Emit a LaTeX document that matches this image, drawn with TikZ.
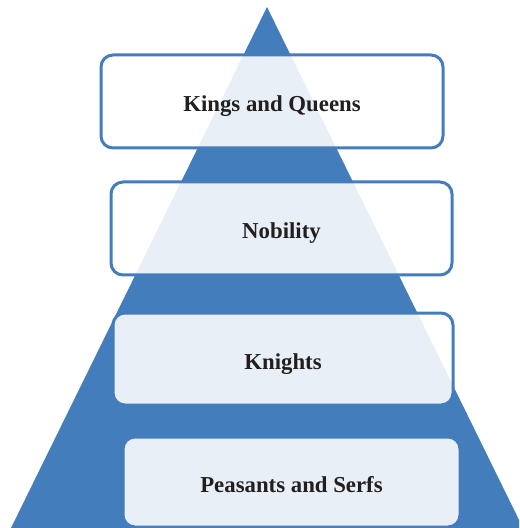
\documentclass[tikz,border=0pt]{standalone}
\usepackage{fontspec}
\setmainfont{Liberation Serif}
\definecolor{pyrblue}{RGB}{68,125,187}
\definecolor{labeltext}{RGB}{35,31,32}

\begin{document}
\begin{tikzpicture}[x=0.5pt, y=-0.5pt, line width=1.5pt,
    tier/.style={draw=pyrblue, fill=white, fill opacity=0.88, text opacity=1, rounded corners=6pt,
        text height=10pt, text depth=0pt,
        font=\fontsize{11.4}{13}\selectfont\bfseries, text=labeltext}]
    \clip (0,0) rectangle (519,528);
    \useasboundingbox (0,0) rectangle (519,528);
    \coordinate (apex) at (267,7);
    \coordinate (base_l) at (11,528);
    \coordinate (base_r) at (523,528);
    \fill[pyrblue] (apex) -- (base_l) -- (base_r) -- cycle;
    \node[tier, minimum width=171pt, minimum height=46.5pt] (kings) at (272,101.5) {Kings and Queens};
    \node[tier, minimum width=170.5pt, minimum height=46.5pt] (nobility) at (281.5,228.5) {Nobility};
    \node[tier, minimum width=170pt, minimum height=46pt] (knights) at (283,359) {Knights};
    \node[tier, minimum width=168.5pt, minimum height=45pt] (peasants) at (291.5,482) {Peasants and Serfs};
\end{tikzpicture}
\end{document}
